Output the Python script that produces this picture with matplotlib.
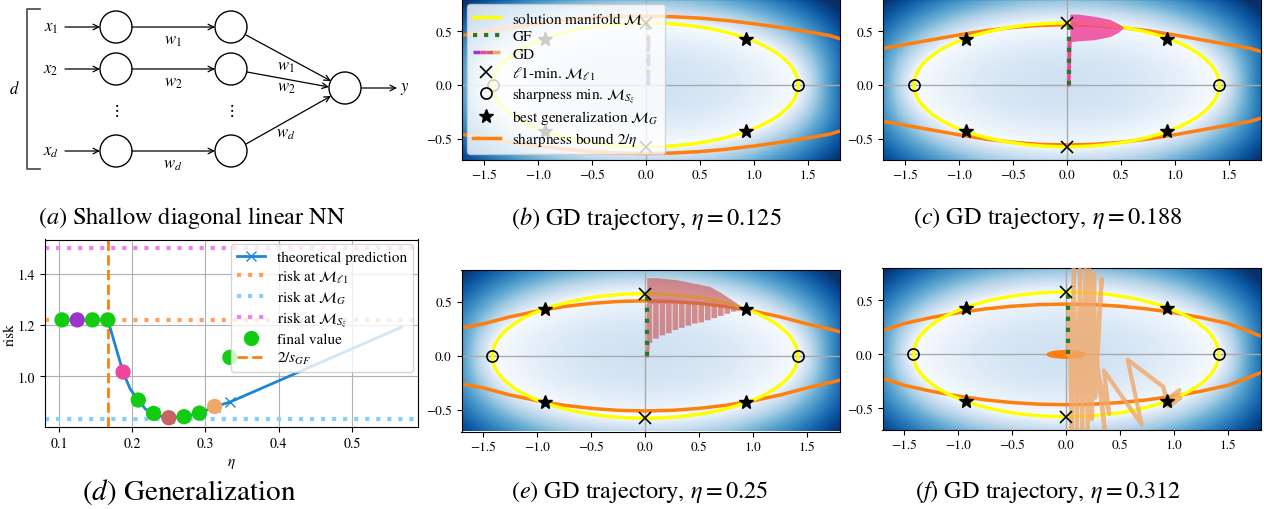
import numpy as np
import matplotlib
matplotlib.use("Agg")
import matplotlib.pyplot as plt
from matplotlib.patches import Circle, Ellipse, Polygon
from matplotlib.lines import Line2D
from matplotlib.legend_handler import HandlerTuple

plt.rcParams['font.family'] = 'serif'
plt.rcParams['font.serif'] = ['STIXGeneral', 'Liberation Serif', 'DejaVu Serif']
plt.rcParams['mathtext.fontset'] = 'stix'

# ── data ──────────────────────────────────────────────────────────────────────

# solution manifold (ellipse semi-axes) and special points
semi_x, semi_y = 1.414, 0.577
l1_x, l1_y = [0.0, 0.0], [0.577, -0.577]
sharp_x, sharp_y = [-1.414, 1.414], [0.0, 0.0]
best_x, best_y = [-0.93, 0.93, -0.93, 0.93], [0.43, 0.43, -0.43, -0.43]

# sharpness bound 2/eta (upper branch, mirrored below)
bound_x = [-1.7, -1.5, -1.25, -1.0, -0.75, -0.5, -0.25, 0.0,
           0.25, 0.5, 0.75, 1.0, 1.25, 1.5, 1.7, 1.8]
bound_b = [0.46, 0.495, 0.535, 0.57, 0.60, 0.622, 0.635, 0.64,
           0.635, 0.622, 0.60, 0.57, 0.535, 0.495, 0.46, 0.43]
bound_c = [0.34, 0.375, 0.42, 0.465, 0.505, 0.535, 0.554, 0.56,
           0.554, 0.535, 0.505, 0.465, 0.42, 0.375, 0.34, 0.31]
bound_e = [0.26, 0.296, 0.362, 0.415, 0.457, 0.486, 0.504, 0.51,
           0.504, 0.486, 0.457, 0.415, 0.362, 0.296, 0.25, 0.225]
bound_f = [0.22, 0.286, 0.341, 0.386, 0.421, 0.446, 0.461, 0.466,
           0.461, 0.446, 0.421, 0.386, 0.341, 0.286, 0.21, 0.17]

# gradient flow
gf_x = [0.02, 0.02]
gf_y = [0.0, 0.57]

# GD, eta = 0.125
gd_b_x = [0.025, 0.03, 0.025, 0.01]
gd_b_y = [0.0, 0.3, 0.5, 0.577]

# GD, eta = 0.188
stem_c_x, stem_c_y = [0.02, 0.03], [0.0, 0.40]
env_c_x = [0.03, 0.1, 0.25, 0.4, 0.48, 0.53]
env_c_top = [0.66, 0.66, 0.64, 0.61, 0.57, 0.537]
env_c_bot = [0.40, 0.41, 0.42, 0.45, 0.49, 0.537]

# GD, eta = 0.25: upper envelope + oscillation streaks hanging below
stem_e_x, stem_e_y = [0.02, 0.03], [0.0, 0.12]
env_e_x = [0.02, 0.1, 0.2, 0.3, 0.4, 0.5, 0.6, 0.7, 0.8, 0.93]
env_e_top = [0.72, 0.72, 0.71, 0.70, 0.68, 0.66, 0.64, 0.585, 0.52, 0.43]
streak_e_x = [0.04, 0.10, 0.16, 0.22, 0.28, 0.34, 0.40, 0.46,
              0.52, 0.58, 0.64, 0.70, 0.76, 0.82, 0.88]
streak_e_lo = [0.12, 0.16, 0.19, 0.21, 0.24, 0.26, 0.28, 0.30,
               0.31, 0.33, 0.35, 0.37, 0.39, 0.41, 0.42]
streak_e_hi = [0.48, 0.48, 0.48, 0.48, 0.48, 0.48, 0.48, 0.48,
               0.47, 0.47, 0.46, 0.46, 0.45, 0.44, 0.44]

# GD, eta = 0.312
gd_f_x = [0.02, 0.03, 0.05, 0.07, 0.10, 0.13, 0.15, 0.18, 0.20, 0.22, 0.24,
          0.26, 0.27, 0.33, 0.28, 0.36, 0.30, 0.40, 0.35, 0.70, 0.57, 0.90,
          0.93, 1.05, 0.95, 1.06, 0.96, 1.03, 0.93]
gd_f_y = [0.0, 0.45, -0.72, 0.82, -0.72, 0.82, -0.72, 0.8, -0.72, 0.78, -0.6,
          0.75, -0.4, 0.70, 0.0, -0.72, -0.2, -0.55, -0.15, -0.65, -0.05, -0.3,
          -0.42, -0.33, -0.48, -0.40, -0.47, -0.38, -0.43]
island_w, island_h = 0.35, 0.07

# generalization panel
eta_theory = [0.1667, 0.177, 0.1875, 0.1974, 0.2083, 0.218, 0.2292, 0.24,
              0.25, 0.2708, 0.2917, 0.3125, 0.3333, 0.4, 0.567]
risk_theory = [1.22, 1.12, 1.017, 0.95, 0.908, 0.873, 0.856, 0.844,
               0.839, 0.843, 0.857, 0.882, 0.90, 0.983, 1.191]
theory_marks = [0, 2, 4, 6, 8, 9, 10, 11, 12]
eta_final = [0.1042, 0.125, 0.1458, 0.1667, 0.1875, 0.2083, 0.2292, 0.25,
             0.2708, 0.2917, 0.3125, 0.3333]
risk_final = [1.22, 1.22, 1.22, 1.22, 1.017, 0.908, 0.856, 0.839,
              0.843, 0.857, 0.883, 1.074]
risk_l1, risk_G, risk_S = 1.22, 0.836, 1.5
eta_crit = 0.1667

C_GREEN = '#11cc11'
C_PURPLE = '#9b35cc'
C_PINK = '#f0459a'
C_RED = '#c96262'
C_TAN = '#f0a868'
final_colors = [C_GREEN, C_PURPLE, C_GREEN, C_GREEN, C_PINK, C_GREEN, C_GREEN,
                C_RED, C_GREEN, C_GREEN, C_TAN, C_GREEN]

# ── figure ────────────────────────────────────────────────────────────────────

W, H = 1264, 510
fig = plt.figure(figsize=(W / 100, H / 100), dpi=100)


def px_axes(left, top, width, height):
    return fig.add_axes([left / W, 1 - (top + height) / H, width / W, height / H])


def caption(x, y, tag, text, size=17.5):
    fig.text(x / W, 1 - y / H, r'$\mathit{(' + tag + ')}$ ' + text,
             ha='center', va='center', fontsize=size)


# (a) network diagram
ax = px_axes(0, 0, 420, 200)
ax.set_xlim(0, 420)
ax.set_ylim(200, 0)
ax.axis('off')
rows_y = [28, 70, 152]
in_lbl = [r'$x_1$', r'$x_2$', r'$x_d$']
w_lbl = [r'$w_1$', r'$w_2$', r'$w_d$']
r = 16
arr = dict(arrowstyle='->', lw=0.9, color='black', shrinkA=0, shrinkB=0)
for y, xl, wl in zip(rows_y, in_lbl, w_lbl):
    for cx in (116, 231):
        ax.add_patch(Circle((cx, y), r, fc='white', ec='black', lw=1))
    ax.text(51, y, xl, ha='center', va='center', fontsize=12)
    ax.annotate('', xy=(100, y), xytext=(65, y), arrowprops=arr)
    ax.annotate('', xy=(215, y), xytext=(132, y), arrowprops=arr)
    ax.text(173, y + 13, wl, ha='center', va='center', fontsize=12)
ax.add_patch(Circle((345, 89), r, fc='white', ec='black', lw=1))
for (x0, y0), (x1, y1) in [((246, 36), (331, 82)), ((247, 73), (329, 88)),
                           ((246, 145), (331, 97))]:
    ax.annotate('', xy=(x1, y1), xytext=(x0, y0), arrowprops=arr)
ax.text(286, 67, r'$w_1$', ha='center', va='center', fontsize=12)
ax.text(286, 88, r'$w_2$', ha='center', va='center', fontsize=12)
ax.text(286, 134, r'$w_d$', ha='center', va='center', fontsize=12)
ax.annotate('', xy=(397, 89), xytext=(362, 89), arrowprops=arr)
ax.text(405, 89, r'$y$', ha='center', va='center', fontsize=12)
for cx in (116, 231):
    ax.text(cx, 111, r'$\vdots$', ha='center', va='center', fontsize=12)
ax.plot([40, 27, 27, 40], [10, 10, 170, 170], color='#555555', lw=1.3)
ax.text(14, 90, r'$d$', ha='center', va='center', fontsize=12)
caption(192, 218, 'a', 'Shallow diagonal linear NN')

# loss landscape background: light inside the manifold, darker outside
gx = np.linspace(-1.7, 1.8, 350)
gy = np.linspace(-0.7, 0.8, 150)
XX, YY = np.meshgrid(gx, gy)
gval = XX ** 2 / semi_x ** 2 + YY ** 2 / semi_y ** 2 - 1
gnorm = np.hypot(2 * XX / semi_x ** 2, 2 * YY / semi_y ** 2) + 1e-9
landscape = np.where(gval > 0, 2.2 * gval / gnorm, -0.2 * gval)


def traj_panel(ax, bound):
    ax.imshow(landscape, extent=(-1.7, 1.8, -0.7, 0.8), origin='lower',
              cmap='Blues', aspect='auto', vmin=0, vmax=1, zorder=0)
    ax.axhline(0, color='#aaaaaa', lw=1, zorder=1)
    ax.axvline(0, color='#aaaaaa', lw=1, zorder=1)
    ax.plot(bound_x, bound, color='#ff7f0e', lw=2.5, zorder=2)
    ax.plot(bound_x, [-v for v in bound], color='#ff7f0e', lw=2.5, zorder=2)
    ax.add_patch(Ellipse((0, 0), 2 * semi_x, 2 * semi_y, fill=False,
                         ec='yellow', lw=2.5, zorder=3))
    ax.plot(l1_x, l1_y, 'x', color='black', ms=8, mew=1.2, zorder=6)
    ax.plot(sharp_x, sharp_y, 'o', mfc='none', mec='black', ms=8, mew=1.2, zorder=6)
    ax.plot(best_x, best_y, '*', color='black', ms=10, zorder=6)
    ax.set_xlim(-1.7, 1.8)
    ax.set_ylim(-0.7, 0.8)
    ax.set_xticks([-1.5, -1.0, -0.5, 0.0, 0.5, 1.0, 1.5])
    ax.set_yticks([-0.5, 0.0, 0.5])
    ax.tick_params(labelsize=9.5)


def gf(ax):
    ax.plot(gf_x, gf_y, ':', color='#267a26', lw=3, zorder=5)


# (b)
ax = px_axes(462, 0, 378, 161)
traj_panel(ax, bound_b)
ax.plot(gd_b_x, gd_b_y, '--', color=C_PURPLE, lw=2.5, zorder=4)
gf(ax)
handles = [
    Line2D([], [], color='yellow', lw=2.5),
    Line2D([], [], color='#267a26', ls=':', lw=3),
    tuple(Line2D([], [], color=c, ls='--', lw=2.5)
          for c in (C_PURPLE, C_PINK, C_RED, C_TAN)),
    Line2D([], [], marker='x', ls='none', color='black', ms=8, mew=1.2),
    Line2D([], [], marker='o', ls='none', mfc='none', mec='black', ms=8, mew=1.2),
    Line2D([], [], marker='*', ls='none', color='black', ms=10),
    Line2D([], [], color='#ff7f0e', lw=2.5),
]
labels = [r'solution manifold $\mathcal{M}$', 'GF', 'GD',
          r'$\ell 1$-min. $\mathcal{M}_{\ell 1}$',
          r'sharpness min. $\mathcal{M}_{S_\xi}$',
          r'best generalization $\mathcal{M}_G$',
          r'sharpness bound $2/\eta$']
leg = ax.legend(handles, labels, loc='upper left', fontsize=11,
                handler_map={tuple: HandlerTuple(ndivide=None, pad=0)},
                borderaxespad=0.3, labelspacing=0.25, handlelength=1.8)
leg.set_zorder(10)
caption(646, 218, 'b', r'GD trajectory, $\eta = 0.125$')

# (c)
ax = px_axes(883, 0, 378, 161)
traj_panel(ax, bound_c)
ax.plot(stem_c_x, stem_c_y, color=C_PINK, lw=2.5, zorder=4)
ax.fill_between(env_c_x, env_c_bot, env_c_top, color=C_PINK, alpha=0.85,
                lw=0, zorder=4)
gf(ax)
caption(1048, 218, 'c', r'GD trajectory, $\eta = 0.188$')

# (e)
ax = px_axes(461.5, 270.5, 378, 162)
traj_panel(ax, bound_e)
ax.plot(stem_e_x, stem_e_y, color=C_RED, lw=2.5, alpha=0.7, zorder=4)
hw = 0.026  # half width of a streak
outline = list(zip(env_e_x, env_e_top))
for sx, lo, hi in reversed(list(zip(streak_e_x, streak_e_lo, streak_e_hi))):
    outline += [(sx + hw, hi), (sx + hw, lo), (sx - hw, lo), (sx - hw, hi)]
outline.append((env_e_x[0], streak_e_hi[0]))
ax.add_patch(Polygon(outline, closed=True, fc=C_RED, ec='none', alpha=0.7,
                     zorder=4))
gf(ax)
caption(640, 492, 'e', r'GD trajectory, $\eta = 0.25$')

# (f)
ax = px_axes(882.5, 269, 378, 162)
traj_panel(ax, bound_f)
ax.add_patch(Ellipse((0, 0), island_w, island_h, color='#ff7f0e', zorder=2))
ax.plot(gd_f_x, gd_f_y, color=C_TAN, lw=3, alpha=0.8, zorder=4)
gf(ax)
caption(1048, 492, 'f', r'GD trajectory, $\eta = 0.312$')

# (d) generalization
ax = px_axes(45, 240.5, 373, 187.5)
ax.grid(True, color='#b0b0b0', lw=0.8, zorder=0)
ax.set_axisbelow(True)
ax.plot(eta_theory, risk_theory, color='#1c86d6', lw=2, marker='x', ms=7,
        mew=1, markevery=theory_marks, label='theoretical prediction', zorder=3)
ax.axhline(risk_l1, color='#ffa060', ls=':', lw=3, label=r'risk at $\mathcal{M}_{\ell 1}$')
ax.axhline(risk_G, color='lightskyblue', ls=':', lw=3, label=r'risk at $\mathcal{M}_G$')
ax.axhline(risk_S, color='violet', ls=':', lw=3, label=r'risk at $\mathcal{M}_{S_\xi}$')
ax.scatter(eta_final, risk_final, s=100, c=final_colors, zorder=4)
ax.plot([], [], 'o', color=C_GREEN, ms=10, ls='none', label='final value')
ax.axvline(eta_crit, color='#ff7f0e', ls='--', lw=2, label=r'$2/s_{GF}$')
ax.set_xlim(0.081, 0.590)
ax.set_ylim(0.803, 1.533)
ax.set_xticks([0.1, 0.2, 0.3, 0.4, 0.5])
ax.set_yticks([1.0, 1.2, 1.4])
ax.tick_params(labelsize=10)
ax.set_xlabel(r'$\eta$', fontsize=11)
ax.set_ylabel('risk', fontsize=11)
ax.yaxis.set_label_coords(-0.075, 0.5)
leg = ax.legend(loc='upper right', fontsize=11, borderaxespad=0.3,
                labelspacing=0.25, handlelength=1.8)
leg.set_zorder(10)
caption(189, 492, 'd', 'Generalization', size=21)

fig.savefig('out.png', dpi=100)
